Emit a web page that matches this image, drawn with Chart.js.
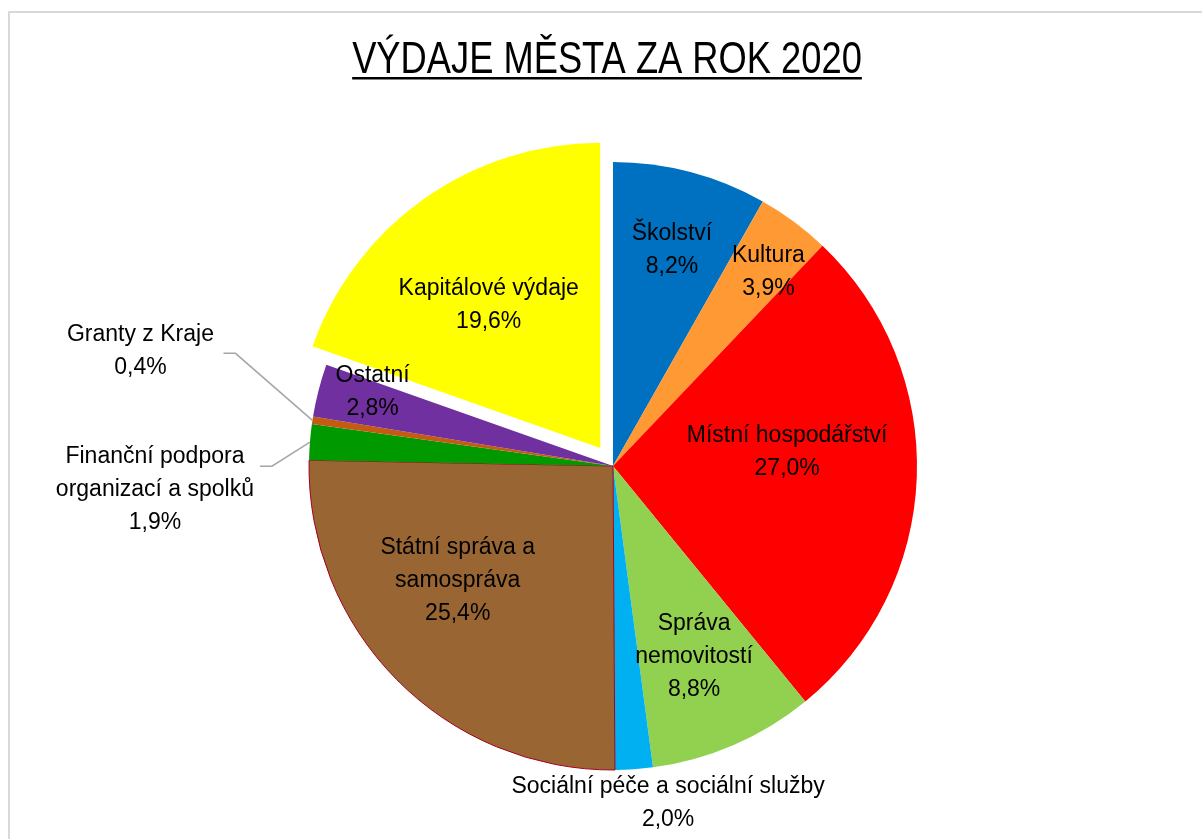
<!DOCTYPE html>
<html>
<head>
<meta charset="utf-8">
<title>Výdaje města za rok 2020</title>
<script src="https://cdn.jsdelivr.net/npm/chart.js@4.4.0/dist/chart.umd.min.js"></script>
<style>
  body { margin: 0; background: #fff; overflow: hidden; }
  #myChart { display: block; }
</style>
</head>
<body>
<canvas id="myChart" width="1202" height="839"></canvas>
<script>
// data
var categories = [
  ['Školství'],
  ['Kultura'],
  ['Místní hospodářství'],
  ['Správa', 'nemovitostí'],
  ['Sociální péče a sociální služby'],
  ['Státní správa a', 'samospráva'],
  ['Finanční podpora', 'organizací a spolků'],
  ['Granty z Kraje'],
  ['Ostatní'],
  ['Kapitálové výdaje']
];
var values = [8.2, 3.9, 27.0, 8.8, 2.0, 25.4, 1.9, 0.4, 2.8, 19.6];
var colors = ['#0070C0', '#FF9933', '#FF0000', '#92D050', '#00B0F0', '#996633', '#009900', '#C55A11', '#7030A0', '#FFFF00'];
// how far each slice is pulled out, in px
var explode = [0, 0, 0, 0, 0, 0, 0, 0, 0, 22];

// where each label sits: fraction of radius along the middle of the slice, then a small shift
var labelLayout = [
  {r: 0.735, dx: 2, dy: 0},
  {r: 0.82, dx: 7, dy: 6},
  {r: 0.57, dx: 1, dy: -20},
  {r: 0.68, dx: -1, dy: 1},
  {r: 1.1, dx: 32, dy: 4},
  {r: 0.63, dx: -19, dy: -20},
  {r: 1.0, dx: -155, dy: 48, leader: [[-50, 24], [-38, 24]]},
  {r: 1.0, dx: -172, dy: -69, leader: [[-89, -67], [-77, -67]]},
  {r: 0.83, dx: 4, dy: -11},
  {r: 0.59, dx: -8, dy: 4}
];

var labelFont = '23px "Liberation Sans", Arial, sans-serif';
var lineHeight = 33;

function pct(v) {
  return v.toFixed(1).replace('.', ',') + '%';
}

var frame = {
  id: 'frame',
  beforeDraw: function(chart) {
    var ctx = chart.ctx;
    ctx.save();
    ctx.fillStyle = '#fff';
    ctx.fillRect(0, 0, chart.width, chart.height);
    ctx.strokeStyle = '#D9D9D9';
    ctx.lineWidth = 2;
    ctx.strokeRect(9, 12, chart.width + 20, chart.height + 20);
    ctx.restore();
  },
  afterDraw: function(chart) {
    var ctx = chart.ctx;
    ctx.save();
    // title, squeezed to look condensed, with underline
    var title = 'VÝDAJE MĚSTA ZA ROK 2020';
    var squeeze = 0.825;
    ctx.font = '44px "Liberation Sans", sans-serif';
    ctx.fillStyle = '#000';
    ctx.textAlign = 'center';
    ctx.textBaseline = 'alphabetic';
    var w = ctx.measureText(title).width * squeeze;
    ctx.save();
    ctx.translate(607, 73);
    ctx.scale(squeeze, 1);
    ctx.fillText(title, 0, 0);
    ctx.restore();
    ctx.fillRect(607 - w / 2, 77, w, 2.5);

    // slice labels
    var meta = chart.getDatasetMeta(0);
    ctx.font = labelFont;
    meta.data.forEach(function(arc, i) {
      var p = arc.getProps(['x', 'y', 'startAngle', 'endAngle', 'outerRadius'], true);
      var mid = (p.startAngle + p.endAngle) / 2;
      var cx = p.x + Math.cos(mid) * explode[i];
      var cy = p.y + Math.sin(mid) * explode[i];
      var lay = labelLayout[i];
      var ax = cx + Math.cos(mid) * p.outerRadius * lay.r;
      var ay = cy + Math.sin(mid) * p.outerRadius * lay.r;
      if (lay.leader) {
        ctx.strokeStyle = '#A6A6A6';
        ctx.lineWidth = 1.5;
        ctx.beginPath();
        ctx.moveTo(ax + lay.leader[0][0], ay + lay.leader[0][1]);
        ctx.lineTo(ax + lay.leader[1][0], ay + lay.leader[1][1]);
        ctx.lineTo(ax, ay);
        ctx.stroke();
      }
      var lines = categories[i].concat([pct(values[i])]);
      var tx = ax + lay.dx;
      var ty = ay + lay.dy - (lines.length - 1) * lineHeight / 2;
      ctx.fillStyle = '#000';
      ctx.textAlign = 'center';
      ctx.textBaseline = 'middle';
      lines.forEach(function(t, j) {
        ctx.fillText(t, tx, ty + j * lineHeight);
      });
    });
    ctx.restore();
  }
};

var ctx = document.getElementById('myChart').getContext('2d');
var chart = new Chart(ctx, {
  type: 'pie',
  data: {
    labels: categories.map(function(c) { return c.join(' '); }),
    datasets: [{
      data: values,
      backgroundColor: colors,
      borderColor: ['#fff', '#fff', '#fff', '#fff', '#fff', '#A50021', '#fff', '#fff', '#fff', '#fff'],
      borderWidth: [0, 0, 0, 0, 0, 1, 0, 0, 0, 0],
      // chart.js moves an arc by offset / 4
      offset: explode.map(function(e) { return e * 4; })
    }]
  },
  options: {
    responsive: false,
    animation: false,
    radius: 304,
    layout: { padding: { left: 24, right: 0, top: 93, bottom: 0 } },
    plugins: {
      legend: { display: false },
      tooltip: { enabled: false },
      title: { display: false }
    }
  },
  plugins: [frame]
});
</script>
</body>
</html>
